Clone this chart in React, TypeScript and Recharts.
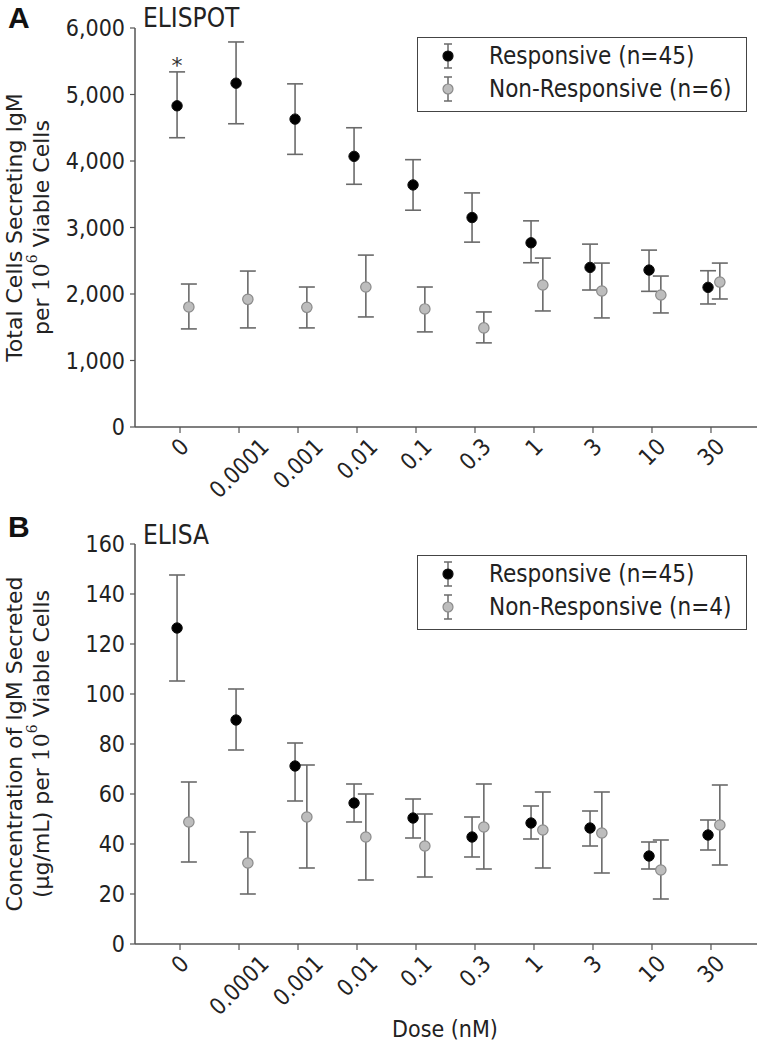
import React from 'react'
import {
  ScatterChart,
  Scatter,
  XAxis,
  YAxis,
  ErrorBar,
  Legend,
  Customized,
} from 'recharts'

const DOSES = ['0', '0.0001', '0.001', '0.01', '0.1', '0.3', '1', '3', '10', '30']
const DOSE_TICKS = [0, 1, 2, 3, 4, 5, 6, 7, 8, 9]

// A: ELISPOT, IgM secreting cells per 10^6 viable cells (mean, lower, upper)
const ELISPOT_RESP = [4830, 5170, 4630, 4070, 3640, 3150, 2770, 2400, 2360, 2100]
const ELISPOT_RESP_LO = [4350, 4560, 4100, 3650, 3260, 2780, 2470, 2060, 2040, 1850]
const ELISPOT_RESP_HI = [5340, 5790, 5160, 4500, 4020, 3520, 3100, 2750, 2660, 2350]
const ELISPOT_NON = [1805, 1920, 1800, 2105, 1775, 1490, 2135, 2045, 1985, 2180]
const ELISPOT_NON_LO = [1475, 1490, 1490, 1655, 1430, 1265, 1745, 1640, 1715, 1925]
const ELISPOT_NON_HI = [2150, 2345, 2105, 2585, 2105, 1730, 2540, 2465, 2270, 2465]
const ELISPOT_SIG = ['*', '', '', '', '', '', '', '', '', '']
const ELISPOT_TICKS = [0, 1000, 2000, 3000, 4000, 5000, 6000]

// B: ELISA, µg/mL per 10^6 viable cells
const ELISA_RESP = [126.4, 89.6, 71.2, 56.4, 50.4, 42.8, 48.4, 46.4, 35.2, 43.6]
const ELISA_RESP_LO = [105.2, 77.6, 57.2, 48.8, 42.4, 34.8, 42, 39.2, 30, 37.6]
const ELISA_RESP_HI = [147.6, 102, 80.4, 64, 58, 50.8, 55.2, 53.2, 40.8, 49.6]
const ELISA_NON = [48.8, 32.4, 50.8, 42.8, 39.2, 46.8, 45.6, 44.4, 29.6, 47.6]
const ELISA_NON_LO = [32.8, 20, 30.4, 25.6, 26.8, 30, 30.4, 28.4, 18, 31.6]
const ELISA_NON_HI = [64.8, 44.8, 71.6, 60, 52, 64, 60.8, 60.8, 41.6, 63.6]
const ELISA_TICKS = [0, 20, 40, 60, 80, 100, 120, 140, 160]

const COND = '"DejaVu Sans Condensed", "DejaVu Sans", sans-serif'
const SANS = '"DejaVu Sans", sans-serif'
const AXIS = '#555'
const BAR = '#6a6a6a'
const TXT = '#222'

// horizontal dodge of the two groups around each dose
const DODGE_RESP = -0.05
const DODGE_NON = 0.15

function points(mean: number[], lo: number[], hi: number[], dodge: number, sig?: string[]) {
  return mean.map((v, i) => ({
    x: i + dodge,
    y: v,
    err: [v - lo[i], hi[i] - v],
    sig: sig ? sig[i] : '',
  }))
}

function RespDot(props: any) {
  const { cx, cy, payload } = props
  return (
    <g>
      <circle cx={cx} cy={cy} r={5.2} fill="#000" stroke="#111" strokeWidth={1} />
      {payload && payload.sig ? (
        <text x={cx} y={cy - 33} textAnchor="middle" fontFamily={SANS} fontSize={22} fill="#333">
          {payload.sig}
        </text>
      ) : null}
    </g>
  )
}

function NonDot(props: any) {
  const { cx, cy } = props
  return <circle cx={cx} cy={cy} r={5.2} fill="#bdbdbd" stroke="#8a8a8a" strokeWidth={1.2} />
}

function DoseTick(props: any) {
  const { x, y, payload } = props
  const label = DOSES[Math.round(payload.value)] ?? ''
  const w = [...label].reduce((s, c) => s + (c === '.' ? 0.29 : 0.57), 0) * 23
  const half = ((w + 16) * 0.7071) / 2
  return (
    <text
      transform={`translate(${x},${y + half}) rotate(-45)`}
      textAnchor="middle"
      dominantBaseline="central"
      fontFamily={COND}
      fontSize={23}
      fill={TXT}
    >
      {label}
    </text>
  )
}

function LegendMark({ fill, stroke }: { fill: string; stroke: string }) {
  return (
    <svg width={16} height={30} style={{ display: 'block', marginLeft: 22, marginRight: 33 }}>
      <line x1={8} y1={3} x2={8} y2={27} stroke={BAR} strokeWidth={1.5} />
      <line x1={4} y1={3} x2={12} y2={3} stroke={BAR} strokeWidth={1.5} />
      <line x1={4} y1={27} x2={12} y2={27} stroke={BAR} strokeWidth={1.5} />
      <circle cx={8} cy={15} r={5} fill={fill} stroke={stroke} strokeWidth={1.2} />
    </svg>
  )
}

function LegendBox({ labels }: { labels: string[] }) {
  return (
    <div
      style={{
        boxSizing: 'border-box',
        width: 330,
        height: 75,
        border: '1.5px solid #444',
        background: '#fff',
        paddingTop: 1,
        fontFamily: COND,
        fontSize: 24,
        color: TXT,
      }}
    >
      {labels.map((l, i) => (
        <div key={l} style={{ display: 'flex', alignItems: 'center', height: 33 }}>
          <LegendMark fill={i === 0 ? '#000' : '#bdbdbd'} stroke={i === 0 ? '#111' : '#8a8a8a'} />
          <span>{l}</span>
        </div>
      ))}
    </div>
  )
}

function YLabel({ lines, cy }: { lines: React.ReactNode[]; cy: number }) {
  const xs = [14, 41]
  return (
    <g>
      {lines.map((l, i) => (
        <text
          key={i}
          transform={`translate(${xs[i]},${cy}) rotate(-90)`}
          textAnchor="middle"
          dominantBaseline="central"
          fontFamily={SANS}
          fontSize={22}
          fill={TXT}
        >
          {l}
        </text>
      ))}
    </g>
  )
}

const per106 = (
  <>
    <tspan fontFamily='"DejaVu Serif", serif'>10</tspan>
    <tspan fontFamily='"DejaVu Serif", serif' fontSize={14} dy={-9}>6</tspan>
    <tspan dy={9}> </tspan>
  </>
)

function Panel(props: {
  letter: string
  title: string
  height: number
  margin: { top: number; right: number; bottom: number; left: number }
  resp: any[]
  non: any[]
  yDomain: [number, number]
  yTicks: number[]
  yFmt: (v: number) => string
  labels: string[]
  legendTop: number
  yLines: React.ReactNode[]
  letterY: number
  titleY: number
  xLabel?: string
}) {
  const { margin } = props
  const plotH = props.height - margin.top - margin.bottom - 30
  const yCenter = margin.top + plotH / 2
  return (
    <ScatterChart width={760} height={props.height} margin={margin}>
      <XAxis
        type="number"
        dataKey="x"
        height={30}
        domain={[-0.763, 9.78]}
        ticks={DOSE_TICKS}
        interval={0}
        allowDataOverflow
        axisLine={{ stroke: AXIS, strokeWidth: 1.5 }}
        tickLine={{ stroke: AXIS, strokeWidth: 1.2 }}
        tickSize={6}
        tickMargin={4}
        tick={<DoseTick />}
        label={
          props.xLabel
            ? () => (
                <text x={445} y={props.height - 11} textAnchor="middle" fontFamily={COND} fontSize={23} fill={TXT}>
                  {props.xLabel}
                </text>
              )
            : undefined
        }
      />
      <YAxis
        type="number"
        dataKey="y"
        width={70}
        domain={props.yDomain}
        ticks={props.yTicks}
        interval={0}
        tickFormatter={props.yFmt}
        axisLine={{ stroke: AXIS, strokeWidth: 1.5 }}
        tickLine={{ stroke: AXIS, strokeWidth: 1.2 }}
        tickSize={5}
        tickMargin={5}
        tick={{ fontFamily: COND, fontSize: 23, fill: TXT }}
        label={() => <YLabel lines={props.yLines} cy={yCenter} />}
      />
      <Legend
        layout="horizontal"
        verticalAlign="middle"
        align="center"
        wrapperStyle={{ position: 'absolute', left: 417, top: props.legendTop, width: 330, height: 75 }}
        content={() => <LegendBox labels={props.labels} />}
      />
      <Customized
        component={() => (
          <g>
            <text x={8} y={props.letterY} fontFamily='"Liberation Sans", Arial, sans-serif' fontWeight="bold" fontSize={30} fill="#111">
              {props.letter}
            </text>
            <text x={143} y={props.titleY} fontFamily={COND} fontSize={26} fill={TXT}>
              {props.title}
            </text>
          </g>
        )}
      />
      <Scatter data={props.resp} shape={<RespDot />} isAnimationActive={false}>
        <ErrorBar dataKey="err" direction="y" width={8} stroke={BAR} strokeWidth={1.6} isAnimationActive={false} />
      </Scatter>
      <Scatter data={props.non} shape={<NonDot />} isAnimationActive={false}>
        <ErrorBar dataKey="err" direction="y" width={8} stroke={BAR} strokeWidth={1.6} isAnimationActive={false} />
      </Scatter>
    </ScatterChart>
  )
}

export default function App() {
  const elispotResp = points(ELISPOT_RESP, ELISPOT_RESP_LO, ELISPOT_RESP_HI, DODGE_RESP, ELISPOT_SIG)
  const elispotNon = points(ELISPOT_NON, ELISPOT_NON_LO, ELISPOT_NON_HI, DODGE_NON)
  const elisaResp = points(ELISA_RESP, ELISA_RESP_LO, ELISA_RESP_HI, DODGE_RESP)
  const elisaNon = points(ELISA_NON, ELISA_NON_LO, ELISA_NON_HI, DODGE_NON)

  return (
    <div style={{ position: 'absolute', left: 0, top: 0, width: 760, height: 1048, background: '#fff' }}>
      <Panel
        letter="A"
        title="ELISPOT"
        height={505}
        margin={{ top: 28, right: 3, bottom: 48, left: 65 }}
        resp={elispotResp}
        non={elispotNon}
        yDomain={[0, 6000]}
        yTicks={ELISPOT_TICKS}
        yFmt={(v) => v.toLocaleString('en-US')}
        labels={['Responsive (n=45)', 'Non-Responsive (n=6)']}
        legendTop={37}
        yLines={['Total Cells Secreting IgM', <>per {per106}Viable Cells</>]}
        letterY={28}
        titleY={27}
      />
      <div style={{ position: 'absolute', left: 0, top: 505 }}>
        <Panel
          letter="B"
          title="ELISA"
          height={543}
          margin={{ top: 39, right: 3, bottom: 74, left: 65 }}
          resp={elisaResp}
          non={elisaNon}
          yDomain={[0, 160]}
          yTicks={ELISA_TICKS}
          yFmt={(v) => String(v)}
          labels={['Responsive (n=45)', 'Non-Responsive (n=4)']}
          legendTop={50}
          yLines={['Concentration of IgM Secreted', <>(µg/mL) per {per106}Viable Cells</>]}
          letterY={32}
          titleY={39}
          xLabel="Dose (nM)"
        />
      </div>
    </div>
  )
}
